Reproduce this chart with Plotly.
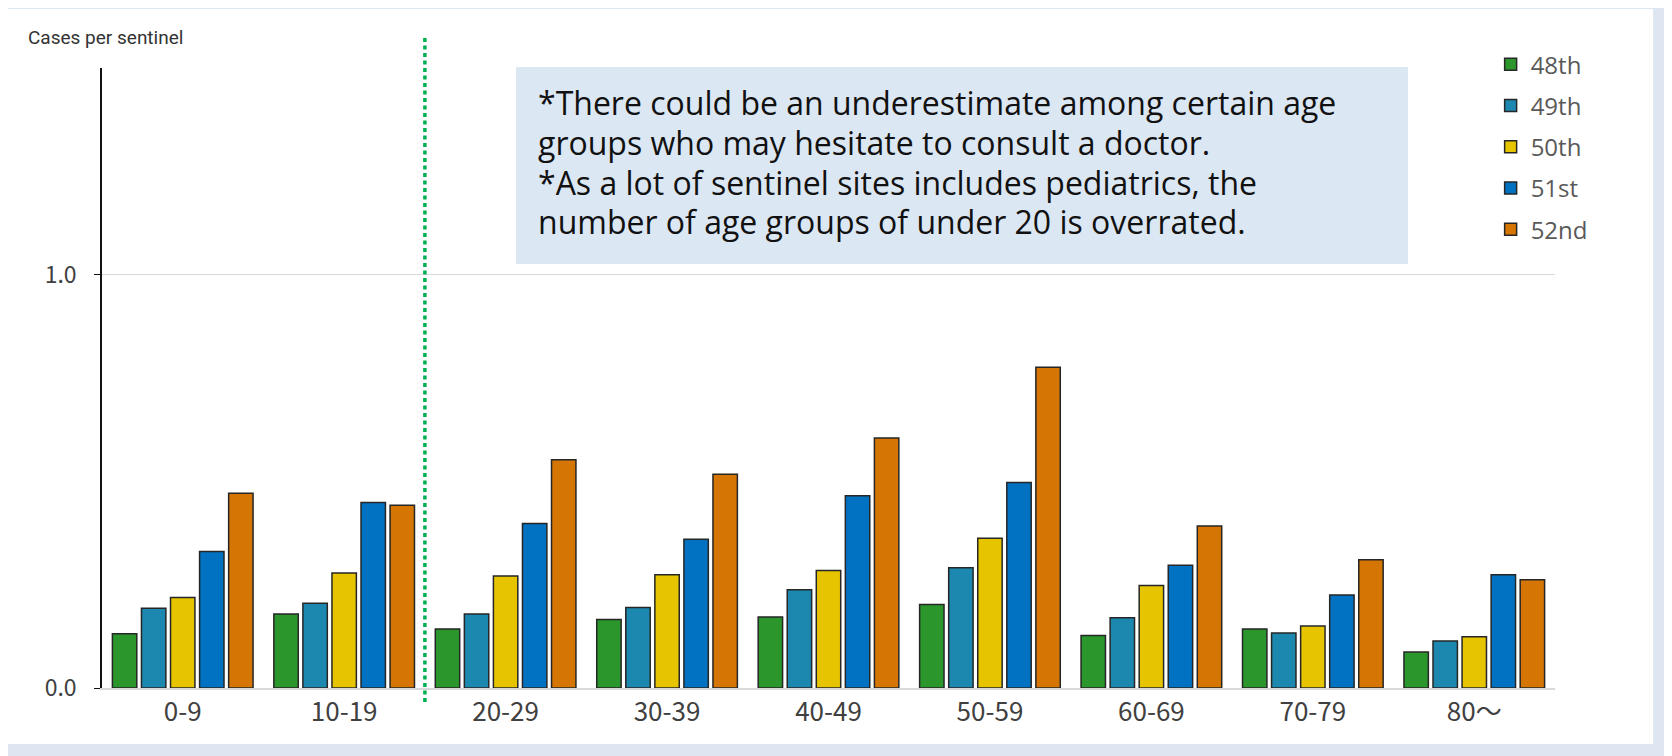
"""
Sentinel surveillance chart: cases per sentinel by age group, weeks 48-52.
"""

import plotly.graph_objects as go


# Data
age_groups = ["0-9", "10-19", "20-29", "30-39", "40-49", "50-59", "60-69", "70-79", "80～"]
week_names = ["48th", "49th", "50th", "51st", "52nd"]

week_48 = [0.131, 0.179, 0.143, 0.166, 0.172, 0.202, 0.127, 0.143, 0.087]
week_49 = [0.193, 0.205, 0.179, 0.195, 0.238, 0.291, 0.170, 0.133, 0.114]
week_50 = [0.219, 0.278, 0.271, 0.274, 0.284, 0.362, 0.248, 0.150, 0.124]
week_51 = [0.330, 0.449, 0.398, 0.360, 0.465, 0.497, 0.297, 0.225, 0.274]
week_52 = [0.471, 0.442, 0.552, 0.517, 0.605, 0.776, 0.392, 0.310, 0.262]

y_tick_values = [0.0, 1.0]
y_tick_labels = ["0.0", "1.0"]

note_lines = [
    "*There could be an underestimate among certain age",
    "groups who may hesitate to consult a doctor.",
    "*As a lot of sentinel sites includes pediatrics, the",
    "number of age groups of under 20 is overrated.",
]

# Styling
bar_colors = ["#2a962c", "#1c88af", "#e6c400", "#0171c1", "#d57503"]
TICK_FONT = "Noto Sans CJK JP, Noto Sans, sans-serif"
NOTE_FONT = "Open Sans, Noto Sans, sans-serif"
LABEL_FONT = "Roboto, Noto Sans, sans-serif"

# the page body has an 8px margin, so the figure is 8px smaller than the window
FIG_W, FIG_H = 1664, 748


def build_figure():
    """Build grouped bar chart."""
    fig = go.Figure()

    series = [week_48, week_49, week_50, week_51, week_52]
    for name, values, color in zip(week_names, series, bar_colors):
        fig.add_trace(go.Bar(
            x=age_groups,
            y=values,
            name=name,
            legendgroup=name,
            marker=dict(color=color, line=dict(color="#262626", width=1.5)),
            hoverinfo="x+y+name",
        ))

    # white card on the light blue background
    fig.add_shape(
        type="rect", xref="paper", yref="paper",
        x0=-0.0668, x1=1.0675, y0=-0.0903, y1=1.0952,
        fillcolor="white", line=dict(width=0), layer="below",
    )

    # note box
    fig.add_shape(
        type="rect", xref="paper", yref="paper",
        x0=0.2849, x1=0.8988, y0=0.684, y1=1.0016,
        fillcolor="#dce7f4", line=dict(width=0), layer="below",
    )
    line_y = [0.944, 0.880, 0.816, 0.752]
    for text, y in zip(note_lines, line_y):
        fig.add_annotation(
            text=text,
            xref="paper", yref="paper", x=0.2987, y=y,
            xanchor="left", yanchor="middle", align="left",
            showarrow=False,
            font=dict(family=NOTE_FONT, size=32, color="#111111"),
        )

    # dotted separator between under-20 and the rest
    fig.add_shape(
        type="line", xref="x", yref="paper",
        x0=1.5, x1=1.5, y0=-0.0226, y1=1.05,
        line=dict(color="#00b050", width=3.5, dash="4px,3.5px"),
    )

    fig.add_annotation(
        text="Cases per sentinel",
        xref="paper", yref="paper", x=-0.0524, y=1.0484,
        xanchor="left", yanchor="middle", showarrow=False,
        font=dict(family=LABEL_FONT, size=19, color="#333333"),
    )

    fig.update_xaxes(
        showline=True, linecolor="#d9d9d9", linewidth=1.5,
        showgrid=False, ticks="",
        tickfont=dict(family=TICK_FONT, size=26, color="#404040"),
    )
    fig.update_yaxes(
        range=[0, 1.5],
        tickvals=y_tick_values, ticktext=y_tick_labels,
        showline=True, linecolor="#111111", linewidth=1.5,
        ticks="outside", ticklen=6, tickcolor="#111111",
        ticklabelstandoff=13,
        showgrid=True, gridcolor="#d9d9d9", gridwidth=1,
        zeroline=False,
        tickfont=dict(family=TICK_FONT, size=23, color="#404040"),
    )

    fig.update_layout(
        width=FIG_W, height=FIG_H,
        margin=dict(l=94, r=117, t=60, b=68),
        paper_bgcolor="#dee6f2",
        plot_bgcolor="white",
        barmode="group",
        bargap=0.1,
        bargroupgap=0.16,
        showlegend=True,
        legend=dict(
            x=0.9557, y=1.0415, xanchor="left", yanchor="top",
            traceorder="grouped", tracegroupgap=7,
            bgcolor="rgba(0,0,0,0)",
            font=dict(family=NOTE_FONT, size=24, color="#595959"),
        ),
    )

    return fig


fig = build_figure()
fig.write_html("out.html")
